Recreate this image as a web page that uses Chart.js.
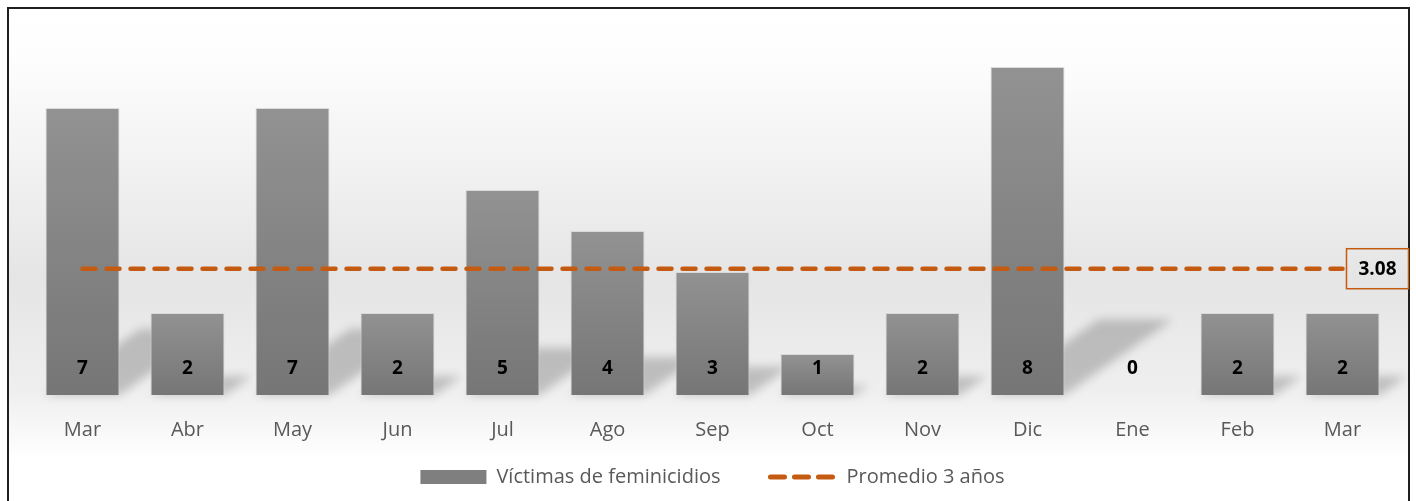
<!DOCTYPE html>
<html>
<head>
<meta charset="utf-8">
<script src="https://cdn.jsdelivr.net/npm/chart.js@4.4.1/dist/chart.umd.min.js"></script>
<style>
  html, body { margin: 0; padding: 0; background: #fff; }
  #wrap { width: 1416px; height: 501px; }
</style>
</head>
<body>
<div id="wrap"><canvas id="myChart"></canvas></div>
<script>
const meses = ['Mar', 'Abr', 'May', 'Jun', 'Jul', 'Ago', 'Sep', 'Oct', 'Nov', 'Dic', 'Ene', 'Feb', 'Mar'];
const victimas = [7, 2, 7, 2, 5, 4, 3, 1, 2, 8, 0, 2, 2];
const promedio = [3.08, 3.08, 3.08, 3.08, 3.08, 3.08, 3.08, 3.08, 3.08, 3.08, 3.08, 3.08, 3.08];
const naranja = '#c55a11';
const fuente = '"Open Sans", sans-serif';

// fondo con degradado y marco
const fondo = {
  id: 'fondo',
  beforeDraw(chart) {
    const c = chart.ctx;
    const g = c.createLinearGradient(0, 8, 0, 460);
    g.addColorStop(0, '#ffffff');
    g.addColorStop(0.12, '#fdfdfd');
    g.addColorStop(0.6, '#e5e5e5');
    g.addColorStop(0.85, '#efefef');
    g.addColorStop(1, '#ffffff');
    c.save();
    c.fillStyle = g;
    c.fillRect(8, 8, 1402, 493);
    c.strokeStyle = '#1f1f1f';
    c.lineWidth = 2;
    c.strokeRect(8, 8, 1401, 500);
    c.restore();
  }
};

// sombras inclinadas detras de las barras
const sombras = {
  id: 'sombras',
  beforeDatasetsDraw(chart) {
    const c = chart.ctx;
    const meta = chart.getDatasetMeta(0);
    c.save();
    c.filter = 'blur(5px)';
    c.fillStyle = 'rgba(0,0,0,0.2)';
    meta.data.forEach(bar => {
      const h = bar.base - bar.y;
      if (h <= 0) return;
      const w = bar.width / 2;
      const sh = h * 0.23, dx = h * 0.33;
      c.beginPath();
      c.moveTo(bar.x - w, bar.base);
      c.lineTo(bar.x + w, bar.base);
      c.lineTo(bar.x + w + dx, bar.base - sh);
      c.lineTo(bar.x - w + dx, bar.base - sh);
      c.closePath();
      c.fill();
    });
    c.restore();
  }
};

// etiquetas de valores
const etiquetas = {
  id: 'etiquetas',
  afterDatasetsDraw(chart) {
    const c = chart.ctx;
    c.save();
    c.font = 'bold 19px ' + fuente;
    c.textAlign = 'center';
    c.textBaseline = 'middle';
    c.fillStyle = '#000';
    chart.getDatasetMeta(0).data.forEach((bar, i) => {
      c.fillText(String(victimas[i]), bar.x, bar.base - 26);
    });
    const pts = chart.getDatasetMeta(1).data;
    const last = pts[pts.length - 1];
    const bx = last.x + 4, bw = 62, bh = 40;
    c.strokeStyle = naranja;
    c.lineWidth = 1.5;
    c.strokeRect(bx, last.y - bh / 2, bw, bh);
    c.fillText(promedio[promedio.length - 1].toFixed(2), bx + bw / 2, last.y + 1);
    c.restore();
  }
};

function degradadoBarra(context) {
  const chart = context.chart;
  const area = chart.chartArea;
  if (!area) return '#808080';
  const y = chart.scales.y;
  const top = y.getPixelForValue(victimas[context.dataIndex]);
  const base = y.getPixelForValue(0);
  if (base - top < 1) return '#808080';
  const g = chart.ctx.createLinearGradient(0, top, 0, base);
  g.addColorStop(0, '#929292');
  g.addColorStop(1, '#767676');
  return g;
}

new Chart(document.getElementById('myChart'), {
  data: {
    labels: meses,
    datasets: [
      {
        type: 'bar',
        label: 'Víctimas de feminicidios',
        data: victimas,
        backgroundColor: degradadoBarra,
        borderColor: 'rgba(215,215,215,0.9)',
        borderWidth: 1,
        categoryPercentage: 1,
        barPercentage: 0.705,
        order: 2
      },
      {
        type: 'line',
        label: 'Promedio 3 años',
        data: promedio,
        borderColor: naranja,
        backgroundColor: naranja,
        borderWidth: 4.5,
        borderDash: [13, 11],
        borderCapStyle: 'round',
        pointRadius: 0,
        fill: false,
        order: 1
      }
    ]
  },
  options: {
    responsive: true,
    maintainAspectRatio: false,
    animation: false,
    layout: { padding: { left: 30, right: 21, top: 26, bottom: 4 } },
    scales: {
      x: {
        offset: true,
        grid: { display: false },
        border: { display: false },
        ticks: { color: '#595959', font: { family: fuente, size: 20 }, padding: 15 },
        afterFit(scale) { scale.height = 62; }
      },
      y: {
        display: false,
        min: 0,
        max: 9
      }
    },
    plugins: {
      tooltip: { enabled: false },
      legend: {
        position: 'bottom',
        labels: {
          color: '#595959',
          font: { family: fuente, size: 20 },
          usePointStyle: true,
          pointStyleWidth: 66,
          boxHeight: 14,
          padding: 10,
          generateLabels(chart) {
            return [
              {
                text: 'Víctimas de feminicidios\u2003\u2003',
                fillStyle: '#7f7f7f',
                strokeStyle: '#7f7f7f',
                lineWidth: 0,
                pointStyle: 'rect',
                datasetIndex: 0,
                fontColor: '#595959'
              },
              {
                text: 'Promedio 3 años',
                fillStyle: naranja,
                strokeStyle: naranja,
                lineWidth: 5,
                lineDash: [14, 10],
                lineCap: 'round',
                pointStyle: 'line',
                datasetIndex: 1,
                fontColor: '#595959'
              }
            ];
          }
        }
      }
    }
  },
  plugins: [fondo, sombras, etiquetas]
});
</script>
</body>
</html>
